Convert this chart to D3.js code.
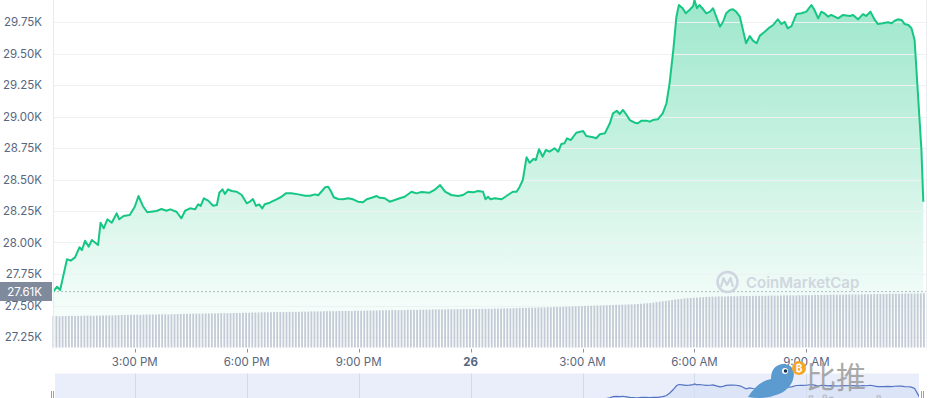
<!DOCTYPE html>
<html><head><meta charset="utf-8">
<script src="https://cdn.jsdelivr.net/npm/d3@7"></script>
<style>
body{margin:0;background:#fff;overflow:hidden}
svg{display:block;font-family:Inter,"Noto Sans",sans-serif}
</style>
</head><body>
<svg id="c" width="937" height="398"></svg>
<script>
// ---------- data ----------
const startTime = new Date(2023, 2, 25, 12, 49);   // first sample
const openPrice = 27610;
const openLabel = "27.61K";
const priceMinutes = [0,6,11,22,28,35,42,46,51,57,62,72,76,81,87,94,102,106,113,123,131,137,144,151,166,174,182,188,198,206,212,220,228,233,237,242,249,257,263,267,272,276,281,287,295,303,311,316,321,326,331,336,340,348,359,367,374,383,394,405,413,421,426,431,437,442,446,451,458,466,474,482,490,498,504,512,520,525,533,541,549,557,565,576,584,592,605,613,622,630,640,651,659,667,675,683,691,695,699,703,710,721,731,739,745,750,755,761,766,772,776,781,787,792,798,806,812,817,822,826,832,841,852,857,868,873,879,887,895,900,906,911,916,922,927,935,940,946,954,959,964,972,980,986,991,997,1002,1006,1012,1017,1023,1029,1031,1035,1039,1045,1050,1056,1061,1066,1072,1077,1082,1088,1093,1098,1104,1109,1114,1120,1125,1131,1136,1144,1152,1157,1165,1171,1176,1181,1187,1195,1203,1211,1219,1224,1230,1235,1240,1246,1251,1262,1270,1281,1286,1294,1302,1307,1314,1321,1326,1334,1342,1348,1353,1358,1364,1369,1375,1380,1385,1391,1396,1399];
const prices = [27610,27649,27623,27867,27856,27882,27962,27940,28014,27967,28020,27980,28157,28113,28184,28157,28232,28184,28210,28218,28284,28369,28290,28240,28250,28266,28252,28263,28244,28192,28252,28271,28263,28303,28290,28351,28332,28292,28298,28395,28422,28385,28422,28409,28403,28377,28311,28324,28345,28290,28303,28271,28303,28316,28343,28363,28390,28390,28382,28371,28371,28382,28375,28403,28438,28443,28411,28359,28345,28343,28351,28343,28324,28319,28343,28355,28369,28355,28351,28324,28337,28351,28363,28403,28390,28401,28395,28417,28456,28403,28377,28369,28377,28403,28398,28409,28403,28343,28363,28343,28351,28343,28377,28403,28403,28443,28496,28676,28633,28663,28655,28740,28681,28734,28721,28748,28721,28782,28787,28827,28813,28871,28885,28845,28835,28827,28859,28867,28946,29025,29046,29020,29052,29012,28972,28951,28946,28967,28967,28959,28972,28978,29025,29105,29263,29528,29792,29885,29859,29819,29845,29877,29925,29859,29885,29851,29819,29832,29859,29792,29713,29752,29819,29845,29851,29832,29792,29686,29581,29639,29602,29581,29640,29673,29708,29724,29771,29734,29752,29700,29718,29813,29819,29832,29885,29845,29779,29832,29819,29792,29806,29779,29806,29798,29806,29771,29813,29798,29832,29766,29734,29740,29748,29740,29760,29771,29766,29734,29726,29700,29607,29131,28734,28324];
// 24h volume (billions USD), one bar every 5 minutes
const volumeStep = 5;
const volumes = [
14.3,14.3,14.2,14.3,14.3,14.4,14.4,14.3,14.4,14.4,14.5,14.5,14.5,14.4,14.5,14.5,14.6,14.6,14.6,14.6,
14.7,14.7,14.8,14.8,14.8,14.9,14.9,14.9,14.8,14.9,15.0,15.0,15.0,15.0,15.1,15.1,15.1,15.0,15.1,15.1,
15.2,15.2,15.3,15.3,15.3,15.4,15.4,15.4,15.4,15.5,15.5,15.5,15.5,15.6,15.6,15.6,15.6,15.6,15.7,15.7,
15.7,15.8,15.8,15.8,15.9,15.9,15.9,16.0,16.0,16.0,16.0,16.1,16.1,16.1,16.1,16.1,16.2,16.2,16.2,16.2,
16.3,16.3,16.3,16.4,16.4,16.4,16.4,16.5,16.5,16.5,16.5,16.5,16.6,16.6,16.6,16.6,16.6,16.7,16.7,16.7,
16.7,16.8,16.8,16.8,16.8,16.9,16.9,16.9,16.9,17.0,17.0,17.0,17.0,17.0,17.1,17.1,17.1,17.1,17.2,17.2,
17.2,17.2,17.3,17.3,17.3,17.3,17.3,17.4,17.4,17.4,17.4,17.4,17.5,17.5,17.5,17.5,17.5,17.5,17.6,17.6,
17.6,17.6,17.7,17.7,17.7,17.8,17.8,17.8,17.9,17.9,18.0,18.0,18.0,18.1,18.1,18.1,18.2,18.2,18.2,18.3,
18.3,18.4,18.4,18.5,18.5,18.6,18.6,18.7,18.7,18.8,18.8,18.9,18.9,19.0,19.0,19.1,19.1,19.2,19.2,19.3,
19.3,19.4,19.4,19.5,19.5,19.6,19.6,19.7,19.8,19.9,20.0,20.1,20.2,20.4,20.6,20.8,21.0,21.2,21.4,21.6,
21.8,22.0,22.1,22.3,22.4,22.5,22.6,22.7,22.8,22.9,23.0,23.0,23.1,23.1,23.2,23.2,23.2,23.3,23.3,23.3,
23.3,23.4,23.4,23.4,23.4,23.5,23.5,23.5,23.5,23.5,23.6,23.6,23.6,23.6,23.6,23.7,23.7,23.7,23.7,23.7,
23.8,23.8,23.8,23.8,23.8,23.9,23.9,23.9,23.9,23.9,24.0,24.0,24.0,24.0,24.0,24.1,24.1,24.1,24.1,24.1,
24.2,24.2,24.2,24.2,24.3,24.3,24.3,24.3,24.3,24.4,24.4,24.4,24.4,24.4,24.5,24.5,24.5,24.5,24.6,24.6,
24.7];
const yTicks = [27250,27500,27750,28000,28250,28500,28750,29000,29250,29500,29750];
const yTickLabels = ["27.25K","27.50K","27.75K","28.00K","28.25K","28.50K","28.75K","29.00K","29.25K","29.50K","29.75K"];
const xTickTimes = [new Date(2023,2,25,15),new Date(2023,2,25,18),new Date(2023,2,25,21),new Date(2023,2,26,0),new Date(2023,2,26,3),new Date(2023,2,26,6),new Date(2023,2,26,9)];
const xTickLabels = ["3:00 PM","6:00 PM","9:00 PM","26","3:00 AM","6:00 AM","9:00 AM"];

// ---------- layout ----------
const plotLeft = 53.5, plotRight = 926.5, volBottom = 347.5;
const svg = d3.select("#c");
const pts = priceMinutes.map((m,i)=>({t:d3.timeMinute.offset(startTime,m), v:prices[i]}));
const endTime = d3.timeMinute.offset(startTime, 1399);

const x = d3.scaleTime().domain([startTime, endTime]).range([53.3, 923.3]);
const y = d3.scaleLinear().domain([27250, 29750]).range([337, 22]);
const yv = d3.scaleLinear().domain([0, 30]).range([volBottom, volBottom-66]);
const yn = d3.scaleLinear().domain([29000, 29850]).range([397, 385]);

const defs = svg.append("defs");
const g = defs.append("linearGradient").attr("id","fillG")
  .attr("gradientUnits","userSpaceOnUse").attr("x1",0).attr("x2",0).attr("y1",0).attr("y2",volBottom);
g.append("stop").attr("offset",0).attr("stop-color","#16c784").attr("stop-opacity",0.42);
g.append("stop").attr("offset",1).attr("stop-color","#16c784").attr("stop-opacity",0.0);
defs.append("clipPath").attr("id","plotClip").append("rect")
  .attr("x",plotLeft).attr("y",0).attr("width",plotRight-plotLeft).attr("height",volBottom);
defs.append("clipPath").attr("id","navClip").append("rect")
  .attr("x",55).attr("y",373.5).attr("width",864).attr("height",30);

// area fill
svg.append("path").datum(pts).attr("clip-path","url(#plotClip)")
  .attr("fill","url(#fillG)")
  .attr("d", d3.area().x(d=>x(d.t)).y0(volBottom).y1(d=>y(d.v)));

// gridlines
svg.append("g").selectAll("line").data(yTicks).join("line")
  .attr("x1",plotLeft).attr("x2",plotRight)
  .attr("y1",d=>Math.round(y(d))+0.5).attr("y2",d=>Math.round(y(d))+0.5)
  .attr("stroke","#eff2f5").attr("stroke-width",1);

// volume bars
svg.append("g").selectAll("rect").data(volumes).join("rect")
  .attr("x",(d,i)=>x(d3.timeMinute.offset(startTime,i*volumeStep))-0.9)
  .attr("width",1.8)
  .attr("y",d=>yv(d))
  .attr("height",d=>volBottom-yv(d))
  .attr("fill","#c4cbd6");

// open price dotted line
svg.append("line").attr("x1",plotLeft).attr("x2",plotRight)
  .attr("y1",y(openPrice)).attr("y2",y(openPrice))
  .attr("stroke","#6f7a8e").attr("stroke-width",1).attr("stroke-dasharray","1,3");

// price line
svg.append("path").datum(pts).attr("fill","none")
  .attr("stroke","#16c784").attr("stroke-width",2).attr("stroke-linejoin","round")
  .attr("d", d3.line().x(d=>x(d.t)).y(d=>y(d.v)));

// frame lines
svg.append("line").attr("x1",plotLeft).attr("x2",plotLeft).attr("y1",0).attr("y2",volBottom+1)
  .attr("stroke","#e6e9ef");
svg.append("line").attr("x1",plotRight).attr("x2",plotRight).attr("y1",0).attr("y2",volBottom+1)
  .attr("stroke","#eceef2");

// y labels
svg.append("g").selectAll("text").data(yTicks).join("text")
  .attr("x",42).attr("y",d=>y(d)+4).attr("text-anchor","end")
  .attr("font-size",11.5).attr("fill","#58667e")
  .text((d,i)=>yTickLabels[i]);

// open price label
svg.append("rect").attr("x",0).attr("y",282).attr("width",52).attr("height",19).attr("fill","#808a9d");
svg.append("text").attr("x",42).attr("y",y(openPrice)+4).attr("text-anchor","end")
  .attr("font-size",11.5).attr("fill","#fff").text(openLabel);

// x ticks
const xt = svg.append("g");
xt.selectAll("line").data(xTickTimes).join("line")
  .attr("x1",d=>Math.round(x(d))+0.5).attr("x2",d=>Math.round(x(d))+0.5)
  .attr("y1",349).attr("y2",352.5).attr("stroke","#8a93a3");
xt.selectAll("text").data(xTickTimes).join("text")
  .attr("x",d=>x(d)).attr("y",366).attr("text-anchor","middle")
  .attr("font-size",11.5).attr("fill","#58667e")
  .attr("font-weight",(d,i)=>xTickLabels[i]==="26"?700:400)
  .text((d,i)=>xTickLabels[i]);

// navigator
svg.append("rect").attr("x",55).attr("y",373.5).attr("width",864).attr("height",30).attr("fill","#e9eefa");
svg.append("g").selectAll("line").data(xTickTimes).join("line")
  .attr("x1",d=>Math.round(x(d))+0.5).attr("x2",d=>Math.round(x(d))+0.5)
  .attr("y1",373.5).attr("y2",398).attr("stroke","#d3dae8");
const nav = svg.append("g").attr("clip-path","url(#navClip)");
nav.append("path").datum(pts).attr("fill","#d6e0f6").attr("fill-opacity",0.7)
  .attr("d", d3.area().x(d=>x(d.t)).y0(420).y1(d=>yn(d.v)));
nav.append("path").datum(pts).attr("fill","none").attr("stroke","#5474c4").attr("stroke-width",1.2)
  .attr("d", d3.line().x(d=>x(d.t)).y(d=>yn(d.v)));
[[51.5,53.5],[921.5,923.5]].forEach(([a,b])=>{
  [a,b].forEach(xx=>svg.append("line").attr("x1",xx).attr("x2",xx).attr("y1",391).attr("y2",398).attr("stroke","#9aa2b1"));
});

// CoinMarketCap watermark
const wm = svg.append("g").attr("opacity",0.9);
wm.append("circle").attr("cx",727.5).attr("cy",282).attr("r",10).attr("fill","none").attr("stroke","#cdd3dd").attr("stroke-width",2.6);
wm.append("path").attr("d","M721 287 L723.5 278 L727 285 L730.5 278 L733 287").attr("fill","none").attr("stroke","#cdd3dd").attr("stroke-width",2.2).attr("stroke-linejoin","round");
wm.append("text").attr("x",746).attr("y",288).attr("font-size",15).attr("font-weight",600)
  .attr("fill","#cdd3dd").text("CoinMarketCap");

// Bitpush watermark
const bp = svg.append("g");
bp.append("text").attr("x",808).attr("y",412).attr("font-size",22).attr("font-weight",700)
  .attr("fill","none").attr("stroke","#b5b9c2").attr("stroke-width",1).text("bitpush.news");
bp.append("path").attr("d","M748 397 Q758 381 771 379 Q771 366 782 364 Q793 363 794 374 Q793 388 779 394 Q765 400 748 397 Z")
  .attr("fill","#5b9bd0");
bp.append("circle").attr("cx",785).attr("cy",371).attr("r",3).attr("fill","#fff");
bp.append("circle").attr("cx",785.5).attr("cy",371).attr("r",1.8).attr("fill","#1c2f4d");
bp.append("circle").attr("cx",799).attr("cy",368).attr("r",7).attr("fill","#f5a524");
bp.append("text").attr("x",799).attr("y",372).attr("text-anchor","middle").attr("font-size",10).attr("font-weight",700)
  .attr("fill","#fff").text("₿");
bp.append("text").attr("x",806).attr("y",388).attr("font-size",30)
  .attr("font-family","'Noto Sans CJK SC'").attr("fill","#9b9b9b").attr("opacity",0.85).text("比推");
</script>
</body></html>
